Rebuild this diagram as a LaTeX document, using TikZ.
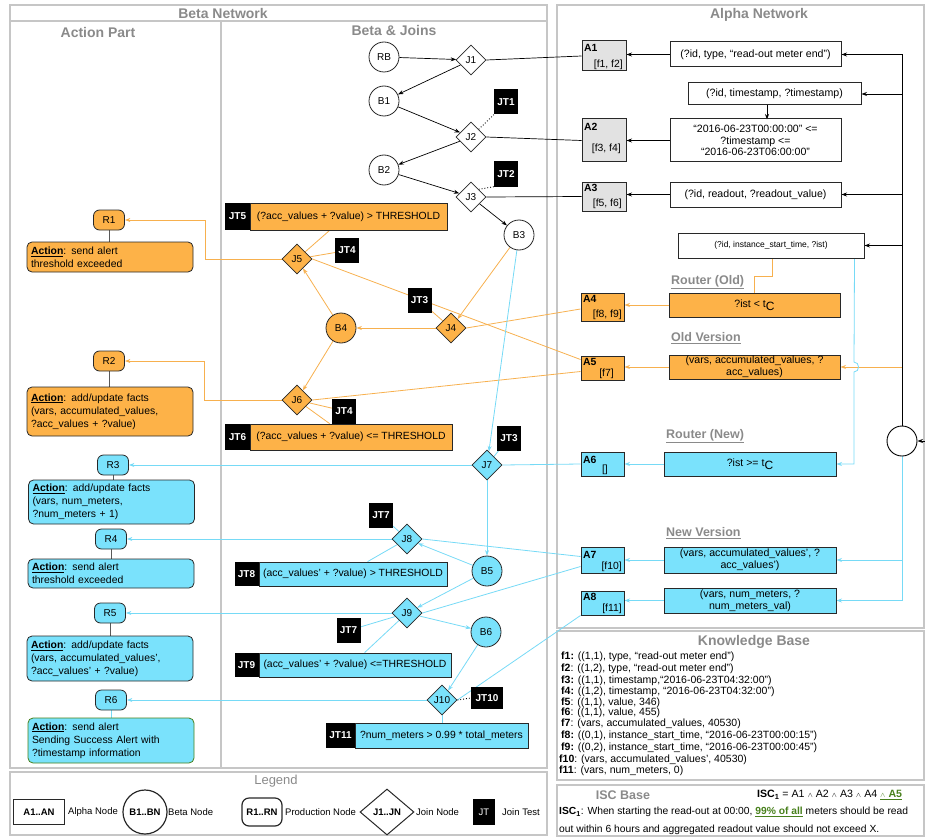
\documentclass[tikz,border=0pt]{standalone}
\usepackage{fontspec}
\setmainfont{Liberation Sans}
\usetikzlibrary{shapes.geometric,arrows.meta,calc,backgrounds}
\definecolor{orf}{RGB}{253,178,72}
\definecolor{orl}{RGB}{247,176,78}
\definecolor{blf}{RGB}{122,226,252}
\definecolor{bll}{RGB}{118,218,246}
\definecolor{frm}{RGB}{198,198,198}
\definecolor{ttl}{RGB}{138,138,138}
\definecolor{gryf}{RGB}{226,226,226}
\definecolor{bdr}{RGB}{40,40,40}
\definecolor{grn}{RGB}{72,128,28}
\newcommand{\fsz}[2]{\fontsize{#1}{#2}\selectfont}
\newcommand{\wsym}{{\fsz{7.5}{8}$\wedge$}}
\tikzset{
  every node/.style={font=\fsz{10.4}{12}},
  frmbox/.style={draw=frm, line width=1.3pt},
  ttlt/.style={text=ttl, font=\bfseries\fsz{14}{16}},
  subl/.style={text=ttl, font=\bfseries\fsz{12.5}{14}, anchor=west, inner sep=0pt},
  bnode/.style={circle, draw=bdr, line width=0.8pt, fill=white, minimum size=30pt, inner sep=0pt, font=\fsz{10}{12}},
  jnode/.style={diamond, draw=bdr, line width=0.8pt, fill=white, minimum width=30pt, minimum height=30pt, inner sep=0pt, font=\fsz{10}{12}},
  jtb/.style={fill=black, text=white, font=\bfseries\fsz{10}{12}, minimum width=24pt, minimum height=25pt, inner sep=0pt},
  jtx/.style={draw=bdr, line width=0.8pt, inner sep=0pt, font=\fsz{10.4}{12}},
  rnode/.style={draw=bdr, line width=0.8pt, rounded corners=6pt, minimum width=31pt, minimum height=20pt, inner sep=0pt, font=\fsz{10}{12}},
  actbox/.style={draw=bdr, line width=0.8pt, rounded corners=5pt, align=left, inner sep=3pt, minimum width=166pt, text width=158pt, font=\fsz{10.4}{13}},
  abox/.style={draw=bdr, line width=1pt, inner sep=0pt, minimum width=44pt},
  albl/.style={anchor=west, inner sep=0pt, font=\bfseries\fsz{10.4}{12}},
  aref/.style={anchor=east, inner sep=0pt, font=\fsz{10.4}{12}},
  cbox/.style={draw=bdr, line width=1pt, inner sep=0pt, align=center, font=\fsz{10.6}{11.7}},
  blk/.style={-{Stealth[length=5.5pt,width=4pt]}, line width=0.7pt, black},
  bln/.style={line width=0.7pt, black},
  oarr/.style={-{Stealth[length=5.5pt,width=4pt]}, line width=0.8pt, orl},
  oln/.style={line width=0.8pt, orl},
  barr/.style={-{Stealth[length=5.5pt,width=4pt]}, line width=0.8pt, bll},
  bline/.style={line width=0.8pt, bll},
  rl/.style={line width=0.9pt, draw=black!65},
  kb/.style={anchor=west, inner sep=0pt, font=\fsz{10.5}{11}},
  lg/.style={anchor=west, inner sep=0pt, font=\fsz{9.5}{11}},
}
\begin{document}
\begin{tikzpicture}[x=1pt,y=-1pt]
\useasboundingbox (0,0) rectangle (925,837);

% ---------- titles ----------
\node[ttlt] (tbn) at (223,13) {Beta Network};
\node[ttlt] (tap) at (98,32) {Action Part};
\node[ttlt] (tbj) at (394,30) {Beta \& Joins};
\node[ttlt] (tan) at (759,15) {Alpha Network};
\node[ttlt] (tkb) at (754,642) {Knowledge Base};
\node[text=ttl, font=\fsz{13}{15}] (tlg) at (276,781) {Legend};
\node[ttlt, font=\bfseries\fsz{12.5}{14}] (tisc) at (623,795) {ISC Base};

% ---------- action part ----------
\node[rnode, fill=orf] (R1) at (109,220) {R1};
\node[actbox, fill=orf, minimum height=30pt] (a1) at (110,257) {\textbf{\underline{Action}}: send alert\\threshold exceeded};
\node[rnode, fill=orf] (R2) at (109,361) {R2};
\node[actbox, fill=orf, minimum height=49pt] (a2) at (110,411.5) {\textbf{\underline{Action}}: add/update facts\\(vars, accumulated\_values,\\?acc\_values + ?value)};
\node[rnode, fill=blf] (R3) at (113,465) {R3};
\node[actbox, fill=blf, minimum height=44pt] (a3) at (111.5,502) {\textbf{\underline{Action}}: add/update facts\\(vars, num\_meters,\\?num\_meters + 1)};
\node[rnode, fill=blf] (R4) at (111,539) {R4};
\node[actbox, fill=blf, minimum height=29pt] (a4) at (111,573.5) {\textbf{\underline{Action}}: send alert\\threshold exceeded};
\node[rnode, fill=blf] (R5) at (110,613) {R5};
\node[actbox, fill=blf, minimum height=45pt] (a5) at (110,658.5) {\textbf{\underline{Action}}: add/update facts\\(vars, accumulated\_values',\\?acc\_values' + ?value)};
\node[rnode, fill=blf] (R6) at (111,700) {R6};
\node[actbox, fill=blf, draw=grn, minimum height=45pt] (a6) at (111,740.5) {\textbf{\underline{Action}}: send alert\\Sending Success Alert with\\?timestamp information};

% ---------- beta & joins ----------
\node[bnode] (RB) at (384,57) {RB};
\node[jnode] (J1) at (471,60) {J1};
\node[bnode] (B1) at (384,101) {B1};
\node[jtb] (JT1) at (506,102) {JT1};
\node[jnode] (J2) at (471,137) {J2};
\node[bnode] (B2) at (384,170) {B2};
\node[jtb] (JT2) at (506,174) {JT2};
\node[jnode] (J3) at (471,197) {J3};
\node[bnode] (B3) at (519,235) {B3};
\node[jtb, minimum width=25pt, minimum height=27pt] (jt5) at (237.5,216.5) {JT5};
\node[jtx, fill=orf, minimum width=197pt, minimum height=27pt] (jt5t) at (348.5,216.5) {(?acc\_values + ?value) > THRESHOLD};
\node[jnode, fill=orf] (J5) at (297,259) {J5};
\node[jtb] (jt4a) at (347,250.5) {JT4};
\node[jtb] (jt3a) at (419.5,300.5) {JT3};
\node[bnode, fill=orf] (B4) at (341,328) {B4};
\node[jnode, fill=orf] (J4) at (451,328) {J4};
\node[jnode, fill=orf] (J6) at (297,400) {J6};
\node[jtb] (jt4b) at (344,411) {JT4};
\node[jtb, minimum width=25pt, minimum height=26pt] (jt6) at (237.5,437) {JT6};
\node[jtx, fill=orf, minimum width=202pt, minimum height=26pt] (jt6t) at (351,437) {(?acc\_values + ?value) <= THRESHOLD};
\node[jtb] (jt3b) at (509,438) {JT3};
\node[jnode, fill=blf] (J7) at (487,465) {J7};
\node[jtb] (jt7a) at (381,515) {JT7};
\node[jnode, fill=blf] (J8) at (407,539) {J8};
\node[jtb, minimum height=24pt] (jt8) at (246.5,574) {JT8};
\node[jtx, fill=blf, minimum width=188pt, minimum height=24pt] (jt8t) at (353,574) {(acc\_values' + ?value) > THRESHOLD};
\node[bnode, fill=blf] (B5) at (487,571) {B5};
\node[jnode, fill=blf] (J9) at (407,613) {J9};
\node[jtb] (jt7b) at (348.5,630.5) {JT7};
\node[bnode, fill=blf] (B6) at (486,632) {B6};
\node[jtb, minimum height=24pt] (jt9) at (246.5,665) {JT9};
\node[jtx, fill=blf, minimum width=192pt, minimum height=24pt] (jt9t) at (355,665) {(acc\_values' + ?value) <=THRESHOLD};
\node[jnode, fill=blf] (J10) at (442,700) {J10};
\node[jtb, minimum width=32pt, minimum height=22pt] (jt10) at (487,698) {JT10};
\node[jtb, minimum width=29pt] (jt11) at (340.5,735.5) {JT11};
\node[jtx, fill=blf, minimum width=173pt, minimum height=25pt] (jt11t) at (441.5,735.5) {?num\_meters > 0.99 * total\_meters};

% ---------- alpha network ----------
\node[abox, fill=gryf, minimum height=30pt] (A1) at (604,56) {};
\node[albl] (A1l) at (584,48) {A1};
\node[aref] (A1r) at (623,64.5) {[f1, f2]};
\node[abox, fill=gryf, minimum height=43pt] (A2) at (604,140.5) {};
\node[albl] (A2l) at (584,127) {A2};
\node[aref] (A2r) at (621,149) {[f3, f4]};
\node[abox, fill=gryf, minimum height=29pt] (A3) at (604,196.5) {};
\node[albl] (A3l) at (584,188) {A3};
\node[aref] (A3r) at (622,203.5) {[f5, f6]};
\node[abox, fill=orf, minimum width=43pt, minimum height=28pt] (A4) at (602.5,307) {};
\node[albl] (A4l) at (583,299) {A4};
\node[aref] (A4r) at (622,315) {[f8, f9]};
\node[abox, fill=orf, minimum width=43pt, minimum height=24pt] (A5) at (602.5,368) {};
\node[albl] (A5l) at (583,362) {A5};
\node[aref] (A5r) at (614,374) {[f7]};
\node[abox, fill=blf, minimum width=43pt, minimum height=24pt] (A6) at (602.5,464) {};
\node[albl] (A6l) at (583,460) {A6};
\node[aref] (A6r) at (608,470) {[]};
\node[abox, fill=blf, minimum width=43pt, minimum height=26pt] (A7) at (602.5,560) {};
\node[albl] (A7l) at (583,555) {A7};
\node[aref] (A7r) at (622,566.5) {[f10]};
\node[abox, fill=blf, minimum width=43pt, minimum height=24pt] (A8) at (602.5,603) {};
\node[albl] (A8l) at (583,597) {A8};
\node[aref] (A8r) at (622,608.5) {[f11]};

\node[cbox, minimum width=171pt, minimum height=25pt] (c1) at (755.5,54.5) {(?id, type, “read-out meter end”)};
\node[cbox, minimum width=173pt, minimum height=22pt] (cts) at (774.5,94) {(?id, timestamp, ?timestamp)};
\node[cbox, minimum width=171pt, minimum height=43pt] (crange) at (755.5,140.5) {“2016-06-23T00:00:00” <=\\?timestamp <=\\“2016-06-23T06:00:00”};
\node[cbox, minimum width=171pt, minimum height=25pt] (c3) at (755.5,194.5) {(?id, readout, ?readout\_value)};
\node[cbox, minimum width=186pt, minimum height=25pt, font=\fsz{8.5}{10}] (cist) at (771,245.5) {(?id, instance\_start\_time, ?ist)};
\node[subl] (lro) at (671,282) {\underline{Router (Old)}};
\node[cbox, fill=orf, minimum width=171pt, minimum height=24pt] (cold) at (754.5,305) {?ist < t\raisebox{-3pt}{\fsz{12}{12}C}};
\node[subl] (lov) at (671,338) {\underline{Old Version}};
\node[cbox, fill=orf, minimum width=171pt, minimum height=24pt] (cov) at (754.5,367) {(vars, accumulated\_values, ?\\acc\_values)};
\node[subl] (lrn) at (666,436) {\underline{Router (New)}};
\node[cbox, fill=blf, minimum width=172pt, minimum height=24pt] (cnew) at (750,464) {?ist >= t\raisebox{-3pt}{\fsz{12}{12}C}};
\node[subl] (lnv) at (666,533) {\underline{New Version}};
\node[cbox, fill=blf, minimum width=172pt, minimum height=26pt] (cnv) at (750,560) {(vars, accumulated\_values', ?\\acc\_values')};
\node[cbox, fill=blf, minimum width=172pt, minimum height=25pt] (cnm) at (750,600.5) {(vars, num\_meters, ?\\num\_meters\_val)};
\node[circle, draw=black, line width=0.9pt, minimum size=30pt, inner sep=0pt, fill=white] (src) at (902,441) {};
\coordinate (inp) at (925,441);
\coordinate (v1) at (902,54.5);
\coordinate (v2) at (902,94);
\coordinate (v3) at (902,194.5);
\coordinate (v4) at (902,245.5);
\coordinate (vo) at (902,367);

% ---------- knowledge base ----------
\node[kb] (kb1) at (561,657) {\textbf{f1:} ((1,1), type, “read-out meter end”)};
\node[kb] (kb2) at (561,669) {\textbf{f2}: ((1,2), type, “read-out meter end”)};
\node[kb] (kb3) at (561,681) {\textbf{f3:} ((1,1), timestamp,“2016-06-23T04:32:00”)};
\node[kb] (kb4) at (561,692) {\textbf{f4:} ((1,2), timestamp, “2016-06-23T04:32:00”)};
\node[kb] (kb5) at (561,703) {\textbf{f5}: ((1,1), value, 346)};
\node[kb] (kb6) at (561,713) {\textbf{f6}: ((1,1), value, 455)};
\node[kb] (kb7) at (561,724) {\textbf{f7}: (vars, accumulated\_values, 40530)};
\node[kb] (kb8) at (561,736) {\textbf{f8:} ((0,1), instance\_start\_time, “2016-06-23T00:00:15”)};
\node[kb] (kb9) at (561,748) {\textbf{f9:} ((0,2), instance\_start\_time, “2016-06-23T00:00:45”)};
\node[kb] (kb10) at (559,760) {\textbf{f10}: (vars, accumulated\_values', 40530)};
\node[kb] (kb11) at (559,771) {\textbf{f11}: (vars, num\_meters, 0)};

% ---------- ISC ----------
\node[anchor=west, inner sep=0pt, font=\fsz{10.6}{11}] (iscf) at (757,795) {\textbf{ISC\textsubscript{1}} = A1 \wsym{} A2 \wsym{} A3 \wsym{} A4 \textcolor{grn}{\underline{\wsym{} \textbf{A5}}}};
\node[anchor=west, inner sep=0pt, font=\fsz{10.3}{11}] (isc1) at (559,812) {\textbf{ISC\textsubscript{1}}: When starting the read-out at 00:00, \textcolor{grn}{\textbf{\underline{99\% of all}}} meters should be read};
\node[anchor=west, inner sep=0pt, font=\fsz{10.3}{11}] (isc2) at (559,830) {out within 6 hours and aggregated readout value should not exceed X.};

% ---------- legend ----------
\node[abox, line width=1.2pt, minimum width=51pt, minimum height=25pt, font=\bfseries\fsz{9.5}{11}] (lA) at (39,812) {A1..AN};
\node[lg] (lAt) at (68,812) {Alpha Node};
\node[ellipse, draw=bdr, line width=1.2pt, minimum width=40pt, minimum height=44pt, inner sep=0pt, font=\bfseries\fsz{9.5}{11}] (lB) at (145,812) {B1..BN};
\node[lg] (lBt) at (168,812) {Beta Node};
\node[rnode, line width=1.2pt, minimum width=40pt, minimum height=28pt, rounded corners=7pt, font=\bfseries\fsz{9.5}{11}] (lR) at (262,812) {R1..RN};
\node[lg] (lRt) at (285,812) {Production Node};
\node[diamond, draw=bdr, line width=1pt, minimum width=54pt, minimum height=46pt, inner sep=0pt, font=\bfseries\fsz{9.5}{11}] (lJ) at (387,812) {J1..JN};
\node[lg] (lJt) at (416,812) {Join Node};
\node[jtb, minimum width=22pt, minimum height=26pt, font=\fsz{9.5}{11}] (lT) at (484,812) {JT};
\node[lg] (lTt) at (502,812) {Join Test};

\coordinate (k1) at (205,0);
\coordinate (k2) at (204,0);
\coordinate (hb0) at ($(cist.south east)+(-10,0)$);
\coordinate (hb1) at (854,362);
\coordinate (hb2) at (854,372);

\begin{pgfonlayer}{background}
% frames
\draw[frmbox] (10,5) rectangle (547,768);
\draw[frmbox] (10,21) -- (547,21);
\draw[frmbox] (221,21) -- (221,768);
\draw[frmbox] (557,5) rectangle (924,628);
\draw[frmbox] (557,631) rectangle (924,780);
\draw[frmbox] (10,772) rectangle (547,835);
\draw[frmbox] (557,785) rectangle (924,836);

% black beta chain
\draw[blk] (RB) -- (J1);
\draw[blk] (J1) -- (B1);
\draw[blk] (B1) -- (J2);
\draw[blk] (J2) -- (B2);
\draw[blk] (B2) -- (J3);
\draw[blk] (J3) -- (B3);
\draw[dotted, line width=0.9pt] (J2.north east) -- (JT1.south west);
\draw[dotted, line width=0.9pt] (J3.north east) -- (JT2.south west);
\draw[bln] (J1.east) -- (A1.west);
\draw[bln] (J2.east) -- (A2.west);
\draw[bln] (J3.east) -- (A3.west);

% alpha black
\draw[blk] (c1.west) -- (c1.west -| A1.east);
\draw[blk] (crange.west) -- (crange.west -| A2.east);
\draw[blk] (c3.west) -- (c3.west -| A3.east);
\draw[blk] ($(cts.south)+(-7.5,0)$) -- ($(cts.south)+(-7.5,14)$);
\draw[line width=0.9pt] (src.north) -- (v1);
\draw[blk] (v1) -- (c1.east);
\draw[blk] (v2) -- (cts.east);
\draw[blk] (v3) -- (c3.east);
\draw[blk] (v4) -- (cist.east);
\draw[blk] (inp) -- (src.east);
\draw[oarr] (vo) -- (cov.east);
\draw[oln] ($(cist.south)+(1,0)$) -- ++(0,18) -| (cold.north);
\draw[barr] (hb0) -- (hb1) .. controls (860,362) and (860,372) .. (hb2) |- (cnew.east);
\draw[barr] (src.south) |- (cnm.east);
\draw[barr] (src.south |- cnv.east) -- (cnv.east);
\draw[oarr] (cold.west) -- (cold.west -| A4.east);
\draw[oarr] (cov.west) -- (cov.west -| A5.east);
\draw[barr] (cnew.west) -- (cnew.west -| A6.east);
\draw[barr] (cnv.west) -- (cnv.west -| A7.east);
\draw[barr] (cnm.west) -- (cnm.west -| A8.east);

% orange beta
\draw[oln] (J4.east) -- ($(A4.west)+(0,2)$);
\draw[oln] (J5.east) -- ($(A5.north west)+(0,4)$);
\draw[oln] (J6.east) -- ($(A5.south west)+(0,-9)$);
\draw[oarr] (B3) -- (J4);
\draw[oarr] (J4) -- (B4);
\draw[oarr] (B4) -- (J5);
\draw[oarr] (B4) -- (J6);
\draw[oarr] (J5.west) -- (J5.west -| k1) |- (R1.east);
\draw[oarr] (J6.west) -- (J6.west -| k2) |- (R2.east);
\draw[oln] (J5) -- (jt4a);
\draw[oln] (J5) -- ($(jt5t.south west)+(80,0)$);
\draw[oln] (jt3a) -- (J4);
\draw[oln] (J6) -- (jt4b);
\draw[oln] (J6) -- ($(jt6t.north west)+(80,0)$);

% blue beta
\draw[barr] (B3) -- (J7);
\draw[bline] (jt3b) -- (J7);
\draw[barr] (J7.west) -- (J7.west -| R3.east);
\draw[bline] (J7.east) -- (A6.west);
\draw[barr] (J7) -- (B5);
\draw[barr] (B5) -- (J8);
\draw[barr] (B5) -- (J9);
\draw[barr] (J8.west) -- (J8.west -| R4.east);
\draw[barr] (J9.west) -- (J9.west -| R5.east);
\draw[barr] (J9) -- (B6);
\draw[barr] (B6) -- (J10);
\draw[barr] (J10.west) -- (J10.west -| R6.east);
\draw[bline] (jt7a) -- (J8);
\draw[bline] (J8) -- ($(jt8t.north west)+(109,0)$);
\draw[bline] (jt7b) -- (J9);
\draw[bline] (J9) -- ($(jt9t.north west)+(106,0)$);
\draw[bline] (J8.east) -- ($(A7.north west)+(0,10)$);
\draw[bline] (J9.east) -- ($(A7.south west)+(0,-7)$);
\draw[bline] (J10.east) -- (A8.south west);
\draw[dotted, line width=0.9pt] (J10.east) -- (jt10.west);
\draw[bline] (J10.south) -- (J10.south |- jt11t.north);

% R to action
\draw[rl] (R1.south) -- (R1.south |- a1.north);
\draw[rl] (R2.south) -- (R2.south |- a2.north);
\draw[rl] (R3.south) -- (R3.south |- a3.north);
\draw[rl] (R4.south) -- (R4.south |- a4.north);
\draw[rl] (R5.south) -- (R5.south |- a5.north);
\draw[bline] (R6.south) -- (R6.south |- a6.north);
\end{pgfonlayer}
\end{tikzpicture}
\end{document}
